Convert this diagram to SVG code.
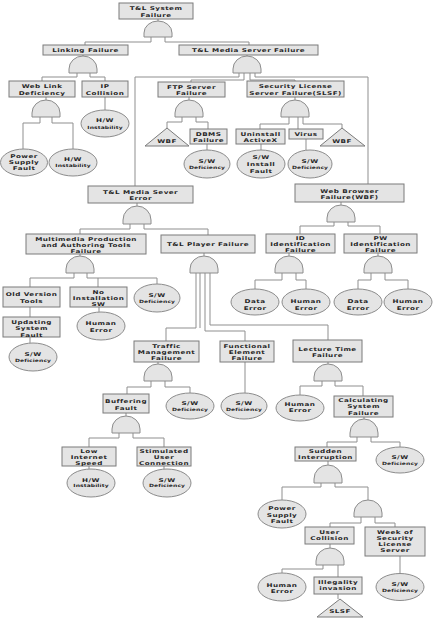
<svg xmlns="http://www.w3.org/2000/svg" width="434" height="619" viewBox="0 0 434 619">
<style>
.b{fill:#e4e4e4;stroke:#7b7b7b;stroke-width:1}
.e{fill:#e4e4e4;stroke:#8c8c8c;stroke-width:1}
.g{fill:#e4e4e4;stroke:#8c8c8c;stroke-width:1}
#connectors path{fill:none;stroke:#8f8f8f;stroke-width:1}
text{font-family:"DejaVu Sans","Liberation Sans",sans-serif;font-weight:bold;font-size:7.2px;letter-spacing:0.45px;fill:#262626;text-anchor:middle}
.s{font-size:6px;letter-spacing:0.1px}
</style>
<rect width="434" height="619" fill="#fff"/>
<g id="connectors">
<path d="M158,19V21M151,37V42H85V45M165,37V42H249V45M83,55V56M247,55V56"/>
<path d="M77,73V77H42V81M90,73V77H105V81"/>
<path d="M239,73V77H135V186M255,73V77H368V184M244,73V80H191V82M250,73V80H295V81"/>
<path d="M46,97V100M40,117V123H23V149M52,117V123H73V149M105,97V110"/>
<path d="M189,97V100M182,117V122H167V128M196,117V122H208V129M207,144V150"/>
<path d="M295,97V100M289,117V124H260V129M298,117V129M303,117V124H342V128M261,144V150M306,139V150"/>
<path d="M137,203V206M130,224V229H80V234M144,224V229H208V235"/>
<path d="M80,254V256M74,273V278H30V287M87,273V278H157V284M98,278V287M30,307V317M30,337V343M99,307V312"/>
<path d="M204,253V256M196,273V328H166V341M200,273V328M205,273V331H245V341M210,273V325H328V340"/>
<path d="M158,362V364M151,381V387H127V394M165,381V387H190V393M126,413V416M119,433V438H89V447M133,433V438H164V447M89,466V469M164,466V469"/>
<path d="M245,362V393"/>
<path d="M328,362V364M322,381V386H300V395M335,381V386H363V396M364,417V419M357,437V442H327V447M371,437V442H400V447"/>
<path d="M328,461V465M321,483V487H282V500M335,483V487H368V500M361,517V523H330V527M375,517V523H395V527"/>
<path d="M330,544V548M323,565V569H282V573M338,565V577M338,594V599M400,556V574"/>
<path d="M341,202V205M334,222V226H300V234M348,222V226H380V234M289,253V256M378,253V256"/>
<path d="M282,273V280H255V289M296,273V280H306V289M371,273V280H358V289M385,273V280H408V289"/>
</g>

<g id="tl-system-failure"><rect class="b" x="119" y="3" width="74" height="16"/><text transform="translate(156,10.2) scale(1,.72)">T&amp;L System<tspan x="0" y="8.9">Failure</tspan></text></g>
<g id="gate1"><path class="g" d="M144,37V33A14 12 0 0 1 172,33V37Z"/></g>

<g id="linking-failure"><rect class="b" x="43" y="45" width="85" height="10"/><text transform="translate(85.5,52.4) scale(1,.72)">Linking Failure</text></g>
<g id="gate2"><path class="g" d="M69,73V69A14 13 0 0 1 97,69V73Z"/></g>
<g id="media-server-failure"><rect class="b" x="179" y="45" width="139" height="10"/><text transform="translate(248.5,52.4) scale(1,.72)">T&amp;L Media Server Failure</text></g>
<g id="gate3"><path class="g" d="M233,73V69A14 13 0 0 1 261,69V73Z"/></g>

<g id="web-link-deficiency"><rect class="b" x="9" y="81" width="66" height="16"/><text transform="translate(42,88.3) scale(1,.72)">Web Link<tspan x="0" y="8.9">Deficiency</tspan></text></g>
<g id="gate4"><path class="g" d="M32,117V113A14 13 0 0 1 60,113V117Z"/></g>
<g id="ip-collision"><rect class="b" x="82" y="81" width="46" height="16"/><text transform="translate(105,88.3) scale(1,.72)">IP<tspan x="0" y="8.9">Collision</tspan></text></g>
<g id="hw-instability-1"><ellipse class="e" cx="105" cy="123.5" rx="24" ry="13.5"/><text transform="translate(105,122.3) scale(1,.72)">H/W<tspan class="s" x="0" y="9">Instability</tspan></text></g>
<g id="power-supply-fault-1"><ellipse class="e" cx="24" cy="162.5" rx="23.5" ry="13.5"/><text transform="translate(24,158.3) scale(1,.72)">Power<tspan x="0" y="8.47">Supply</tspan><tspan x="0" y="16.94">Fault</tspan></text></g>
<g id="hw-instability-2"><ellipse class="e" cx="73" cy="162.5" rx="24" ry="13.5"/><text transform="translate(73,161) scale(1,.72)">H/W<tspan class="s" x="0" y="9">Instability</tspan></text></g>

<g id="ftp-server-failure"><rect class="b" x="158" y="82" width="67" height="15"/><text transform="translate(191.5,88.5) scale(1,.72)">FTP Server<tspan x="0" y="8.9">Failure</tspan></text></g>
<g id="gate5"><path class="g" d="M175,117V113A14 13 0 0 1 203,113V117Z"/></g>
<g id="wbf-1"><path class="b" d="M167,128L189,146H145Z"/><text transform="translate(167,143) scale(1,.72)">WBF</text></g>
<g id="dbms-failure"><rect class="b" x="190" y="129" width="37" height="15"/><text transform="translate(208.5,135.5) scale(1,.72)">DBMS<tspan x="0" y="8.9">Failure</tspan></text></g>
<g id="sw-deficiency-1"><ellipse class="e" cx="207" cy="164" rx="23" ry="14"/><text transform="translate(207,162.5) scale(1,.72)">S/W<tspan class="s" x="0" y="9">Deficiency</tspan></text></g>

<g id="slsf"><rect class="b" x="247" y="81" width="97" height="16"/><text transform="translate(295.5,88.3) scale(1,.72)">Security License<tspan x="0" y="8.9">Server Failure(SLSF)</tspan></text></g>
<g id="gate6"><path class="g" d="M281,117V113A14 13 0 0 1 309,113V117Z"/></g>
<g id="uninstall-activex"><rect class="b" x="236" y="129" width="49" height="15"/><text transform="translate(260.5,135.5) scale(1,.72)">Uninstall<tspan x="0" y="8.9">ActiveX</tspan></text></g>
<g id="virus"><rect class="b" x="289" y="129" width="34" height="10"/><text transform="translate(306,136.4) scale(1,.72)">Virus</text></g>
<g id="wbf-2"><path class="b" d="M342,128L365,146H320Z"/><text transform="translate(342,143) scale(1,.72)">WBF</text></g>
<g id="sw-install-fault"><ellipse class="e" cx="261" cy="164" rx="24" ry="14"/><text transform="translate(261,159.2) scale(1,.72)">S/W<tspan x="0" y="9.3">Install</tspan><tspan x="0" y="18.6">Fault</tspan></text></g>
<g id="sw-deficiency-2"><ellipse class="e" cx="310" cy="164" rx="22" ry="14"/><text transform="translate(310,162.5) scale(1,.72)">S/W<tspan class="s" x="0" y="8.75">Deficiency</tspan></text></g>

<g id="media-sever-error"><rect class="b" x="88" y="186" width="105" height="17"/><text transform="translate(140.5,193.8) scale(1,.72)">T&amp;L Media Sever<tspan x="0" y="8.6">Error</tspan></text></g>
<g id="gate7"><path class="g" d="M123,224V220A14 14 0 0 1 151,220V224Z"/></g>

<g id="multimedia-failure"><rect class="b" x="26" y="234" width="120" height="20"/><text transform="translate(86,240.6) scale(1,.72)">Multimedia Production<tspan x="0" y="8.6">and Authoring Tools</tspan><tspan x="0" y="17.2">Failure</tspan></text></g>
<g id="gate8"><path class="g" d="M66,273V269A14 13 0 0 1 94,269V273Z"/></g>
<g id="old-version-tools"><rect class="b" x="3" y="287" width="57" height="20"/><text transform="translate(31.5,296.4) scale(1,.72)">Old Version<tspan x="0" y="8.75">Tools</tspan></text></g>
<g id="updating-system-fault"><rect class="b" x="3" y="317" width="57" height="20"/><text transform="translate(31.5,323.8) scale(1,.72)">Updating<tspan x="0" y="8.9">System</tspan><tspan x="0" y="17.8">Fault</tspan></text></g>
<g id="sw-deficiency-3"><ellipse class="e" cx="33" cy="357" rx="24" ry="14"/><text transform="translate(33,356) scale(1,.72)">S/W<tspan class="s" x="0" y="9">Deficiency</tspan></text></g>
<g id="no-installation-sw"><rect class="b" x="70" y="287" width="57" height="20"/><text transform="translate(98.5,293.8) scale(1,.72)">No<tspan x="0" y="8.6">Installation</tspan><tspan x="0" y="17.2">SW</tspan></text></g>
<g id="human-error-1"><ellipse class="e" cx="101" cy="326" rx="24" ry="14"/><text transform="translate(101,325) scale(1,.72)">Human<tspan x="0" y="9.7">Error</tspan></text></g>
<g id="sw-deficiency-4"><ellipse class="e" cx="157" cy="298" rx="23" ry="14"/><text transform="translate(157,297) scale(1,.72)">S/W<tspan class="s" x="0" y="9">Deficiency</tspan></text></g>

<g id="player-failure"><rect class="b" x="161" y="235" width="94" height="18"/><text transform="translate(208,246.4) scale(1,.72)">T&amp;L Player Failure</text></g>
<g id="gate9"><path class="g" d="M190,273V269A14 13 0 0 1 218,269V273Z"/></g>

<g id="traffic-management-failure"><rect class="b" x="134" y="341" width="65" height="21"/><text transform="translate(166.5,347.6) scale(1,.72)">Traffic<tspan x="0" y="8.75">Management</tspan><tspan x="0" y="17.5">Failure</tspan></text></g>
<g id="gate10"><path class="g" d="M144,381V377A14 13 0 0 1 172,377V381Z"/></g>
<g id="buffering-fault"><rect class="b" x="103" y="394" width="46" height="19"/><text transform="translate(126,403.3) scale(1,.72)">Buffering<tspan x="0" y="8.75">Fault</tspan></text></g>
<g id="sw-deficiency-5"><ellipse class="e" cx="190" cy="406" rx="24" ry="13"/><text transform="translate(190,405) scale(1,.72)">S/W<tspan class="s" x="0" y="8.75">Deficiency</tspan></text></g>
<g id="gate11"><path class="g" d="M112,433V429A14 13 0 0 1 140,429V433Z"/></g>
<g id="low-internet-speed"><rect class="b" x="62" y="447" width="54" height="19"/><text transform="translate(89,453) scale(1,.72)">Low<tspan x="0" y="8.47">Internet</tspan><tspan x="0" y="16.94">Speed</tspan></text></g>
<g id="stimulated-user-connection"><rect class="b" x="137" y="447" width="54" height="19"/><text transform="translate(164,453) scale(1,.72)">Stimulated<tspan x="0" y="8.47">User</tspan><tspan x="0" y="16.94">Connection</tspan></text></g>
<g id="hw-instability-3"><ellipse class="e" cx="91" cy="483" rx="24" ry="14"/><text transform="translate(91,481.8) scale(1,.72)">H/W<tspan class="s" x="0" y="7.9">Instability</tspan></text></g>
<g id="sw-deficiency-6"><ellipse class="e" cx="167" cy="483" rx="24" ry="14"/><text transform="translate(167,481.8) scale(1,.72)">S/W<tspan class="s" x="0" y="7.9">Deficiency</tspan></text></g>

<g id="functional-element-failure"><rect class="b" x="220" y="341" width="54" height="21"/><text transform="translate(247,347.6) scale(1,.72)">Functional<tspan x="0" y="8.75">Element</tspan><tspan x="0" y="17.5">Failure</tspan></text></g>
<g id="sw-deficiency-7"><ellipse class="e" cx="244" cy="406" rx="23" ry="13"/><text transform="translate(244,405) scale(1,.72)">S/W<tspan class="s" x="0" y="8.75">Deficiency</tspan></text></g>

<g id="lecture-time-failure"><rect class="b" x="293" y="340" width="69" height="22"/><text transform="translate(327.5,350.6) scale(1,.72)">Lecture Time<tspan x="0" y="9.44">Failure</tspan></text></g>
<g id="gate12"><path class="g" d="M314,381V377A14 13 0 0 1 342,377V381Z"/></g>
<g id="human-error-2"><ellipse class="e" cx="300" cy="408" rx="24" ry="13"/><text transform="translate(300,405.5) scale(1,.72)">Human<tspan x="0" y="9.72">Error</tspan></text></g>
<g id="calculating-system-failure"><rect class="b" x="334" y="396" width="59" height="21"/><text transform="translate(363.5,401.8) scale(1,.72)">Calculating<tspan x="0" y="8.9">System</tspan><tspan x="0" y="17.8">Failure</tspan></text></g>
<g id="gate13"><path class="g" d="M350,437V433A14 14 0 0 1 378,433V437Z"/></g>
<g id="sudden-interruption"><rect class="b" x="295" y="447" width="61" height="14"/><text transform="translate(325.5,452.8) scale(1,.72)">Sudden<tspan x="0" y="8.6">Interruption</tspan></text></g>
<g id="sw-deficiency-8"><ellipse class="e" cx="400" cy="460" rx="24" ry="13"/><text transform="translate(400,459) scale(1,.72)">S/W<tspan class="s" x="0" y="8.75">Deficiency</tspan></text></g>
<g id="gate14"><path class="g" d="M314,483V479A14 14 0 0 1 342,479V483Z"/></g>
<g id="power-supply-fault-2"><ellipse class="e" cx="282" cy="514" rx="24" ry="14"/><text transform="translate(282,509.8) scale(1,.72)">Power<tspan x="0" y="9.44">Supply</tspan><tspan x="0" y="18.9">Fault</tspan></text></g>
<g id="gate15"><path class="g" d="M354,517V513A14 13 0 0 1 382,513V517Z"/></g>
<g id="user-collision"><rect class="b" x="305" y="527" width="49" height="17"/><text transform="translate(329.5,534) scale(1,.72)">User<tspan x="0" y="8.9">Collision</tspan></text></g>
<g id="week-of-security-license-server"><rect class="b" x="365" y="527" width="60" height="29"/><text transform="translate(395,534) scale(1,.72)">Week of<tspan x="0" y="8.33">Security</tspan><tspan x="0" y="16.67">License</tspan><tspan x="0" y="25">Server</tspan></text></g>
<g id="gate16"><path class="g" d="M316,565V561A14 13 0 0 1 344,561V565Z"/></g>
<g id="human-error-3"><ellipse class="e" cx="282" cy="587" rx="24" ry="14"/><text transform="translate(282,586.5) scale(1,.72)">Human<tspan x="0" y="9.72">Error</tspan></text></g>
<g id="illegality-invasion"><rect class="b" x="314" y="577" width="48" height="17"/><text transform="translate(338,584) scale(1,.72)">Illegality<tspan x="0" y="8.9">invasion</tspan></text></g>
<g id="slsf-ref"><path class="b" d="M340,599L363,617H317Z"/><text transform="translate(340,613.4) scale(1,.72)">SLSF</text></g>
<g id="sw-deficiency-9"><ellipse class="e" cx="400" cy="587" rx="24" ry="13.5"/><text transform="translate(400,585.8) scale(1,.72)">S/W<tspan class="s" x="0" y="8.9">Deficiency</tspan></text></g>

<g id="web-browser-failure"><rect class="b" x="295" y="184" width="109" height="18"/><text transform="translate(349.5,193.3) scale(1,.72)">Web Browser<tspan x="0" y="8.6">Failure(WBF)</tspan></text></g>
<g id="gate17"><path class="g" d="M327,222V218A14 13 0 0 1 355,218V222Z"/></g>
<g id="id-identification-failure"><rect class="b" x="266" y="234" width="69" height="19"/><text transform="translate(300.5,239.7) scale(1,.72)">ID<tspan x="0" y="8.47">Identification</tspan><tspan x="0" y="16.94">Failure</tspan></text></g>
<g id="pw-identification-failure"><rect class="b" x="344" y="234" width="73" height="19"/><text transform="translate(380.5,239.7) scale(1,.72)">PW<tspan x="0" y="8.47">Identification</tspan><tspan x="0" y="16.94">Failure</tspan></text></g>
<g id="gate18"><path class="g" d="M275,273V269A14 13 0 0 1 303,269V273Z"/></g>
<g id="gate19"><path class="g" d="M364,273V269A14 13 0 0 1 392,269V273Z"/></g>
<g id="data-error-1"><ellipse class="e" cx="255" cy="302" rx="24" ry="13"/><text transform="translate(255,302.8) scale(1,.72)">Data<tspan x="0" y="9.44">Error</tspan></text></g>
<g id="human-error-4"><ellipse class="e" cx="306" cy="302" rx="24" ry="13"/><text transform="translate(306,302.8) scale(1,.72)">Human<tspan x="0" y="9.44">Error</tspan></text></g>
<g id="data-error-2"><ellipse class="e" cx="358" cy="302" rx="24" ry="13"/><text transform="translate(358,302.8) scale(1,.72)">Data<tspan x="0" y="9.44">Error</tspan></text></g>
<g id="human-error-5"><ellipse class="e" cx="408" cy="302" rx="24" ry="13"/><text transform="translate(408,302.8) scale(1,.72)">Human<tspan x="0" y="9.44">Error</tspan></text></g>
</svg>
